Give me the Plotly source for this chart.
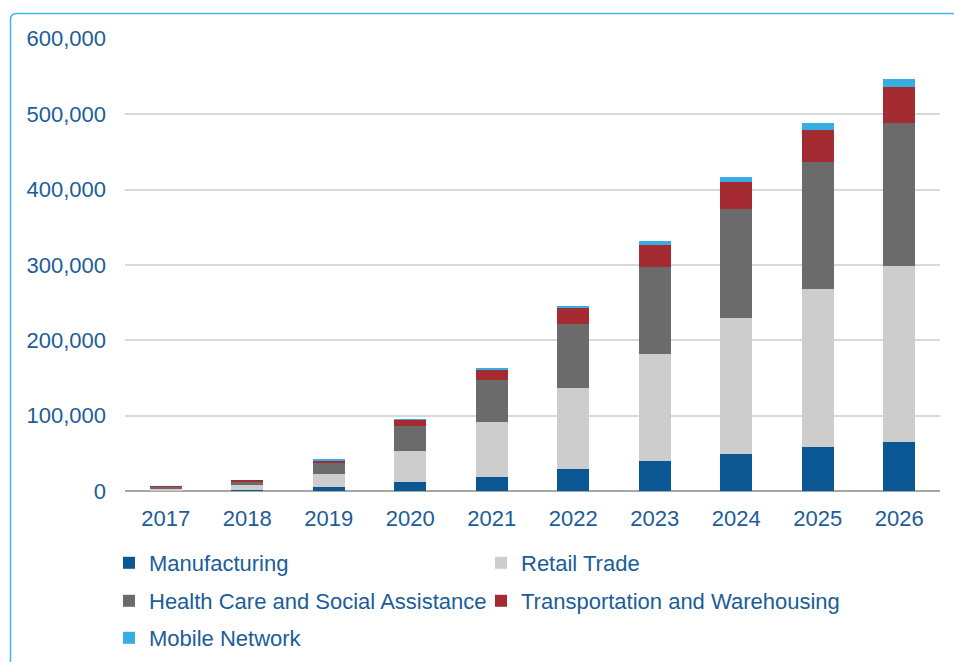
import plotly.graph_objects as go

years = ["2017", "2018", "2019", "2020", "2021", "2022", "2023", "2024", "2025", "2026"]
manufacturing = [500, 1500, 5000, 12000, 19000, 29500, 39300, 49000, 58000, 65000]
retail_trade = [2000, 6000, 17500, 41000, 72000, 107000, 143000, 180000, 209500, 234000]
health_care = [3500, 5500, 14500, 33000, 56500, 85500, 114600, 144500, 169500, 189000]
transportation = [600, 1500, 4000, 8500, 14000, 21500, 30000, 36200, 42500, 47500]
mobile_network = [0, 0, 200, 300, 1500, 2500, 4500, 6300, 8500, 11100]

series = [
    ("Manufacturing", manufacturing, "#0b5794", "legend"),
    ("Retail Trade", retail_trade, "#cdcdcd", "legend"),
    ("Health Care and Social Assistance", health_care, "#6b6b6b", "legend2"),
    ("Transportation and Warehousing", transportation, "#a52b33", "legend2"),
    ("Mobile Network", mobile_network, "#36ade3", "legend3"),
]

TXT = "#1c5d99"
FONT = "Liberation Sans, Arial, sans-serif"
FS = 22

fig = go.Figure()
for name, vals, color, lg in series:
    fig.add_trace(go.Bar(x=years, y=vals, name=name, marker_color=color,
                         marker_line_width=0, legend=lg))

W, H = 954, 662
L, R, T, B = 125, 14, 38, 171
pw = W - L - R
ph = H - T - B

def px2x(px):
    return (px - L) / pw

def py2y(py):
    return (H - B - py) / ph

# rounded light-blue frame (top-left corner visible)
x0, y0 = px2x(10.5), py2y(13.5)
x1, y1 = px2x(970), py2y(680)
rx, ry = 6 / pw, 6 / ph
path = (f"M {x0},{y1} L {x0},{y0 - ry} Q {x0},{y0} {x0 + rx},{y0} L {x1},{y0}")

leg_common = dict(orientation="h", xanchor="left", yanchor="middle",
                  traceorder="normal",
                  font=dict(family=FONT, size=FS, color=TXT),
                  entrywidth=327, entrywidthmode="pixels",
                  bgcolor="rgba(0,0,0,0)", itemclick=False)

fig.update_layout(
    width=W, height=H,
    margin=dict(l=L, r=R, t=T, b=B, autoexpand=False),
    paper_bgcolor="white", plot_bgcolor="white",
    barmode="stack", bargap=0.607,
    font=dict(family=FONT, size=FS, color=TXT),
    xaxis=dict(showgrid=False, tickfont=dict(size=FS, color=TXT),
               ticklabelstandoff=12, showline=False, zeroline=False),
    yaxis=dict(range=[0, 601000], tickvals=[0, 100000, 200000, 300000, 400000, 500000, 600000],
               tickformat=",d", showgrid=True, gridcolor="#d9d9d9", gridwidth=1.5,
               zeroline=True, zerolinecolor="#a6a6a6", zerolinewidth=1.5,
               tickfont=dict(size=FS, color=TXT), ticklabelstandoff=18),
    legend=dict(x=px2x(109), y=py2y(563), **leg_common),
    legend2=dict(x=px2x(109), y=py2y(601), **leg_common),
    legend3=dict(x=px2x(109), y=py2y(638), **leg_common),
    shapes=[dict(type="path", xref="paper", yref="paper", path=path,
                 line=dict(color="#3db5ea", width=1.5))],
    showlegend=True,
)

fig.write_html("out.html")
